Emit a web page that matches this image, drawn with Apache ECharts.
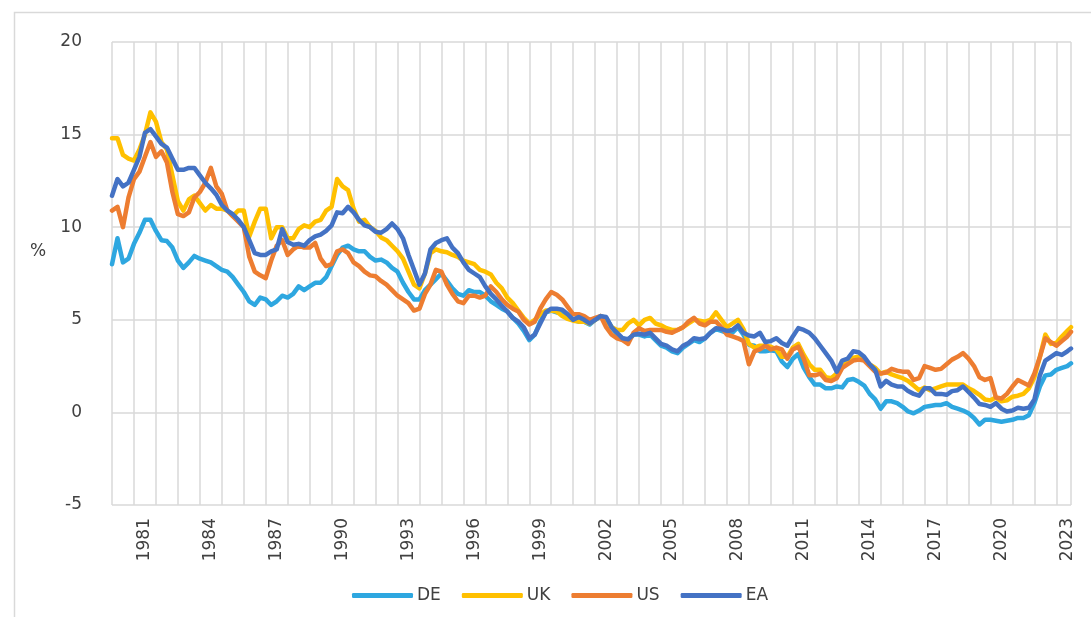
<!DOCTYPE html>
<html>
<head>
<meta charset="utf-8">
<script src="https://cdn.jsdelivr.net/npm/echarts@6/dist/echarts.min.js"></script>
<style>
html,body{margin:0;padding:0;background:#fff;}
#chart{width:1091px;height:617px;}
</style>
</head>
<body>
<div id="chart"></div>
<script>
// Quarterly observations from 1980 Q1 to 2023 Q3, plus the last monthly point (Sep 2023)
const startYear = 1980;
const quarterCount = 175;
const lastDate = 2023 + 8 / 12;
const dates = [];
for (let i = 0; i < quarterCount; i++) dates.push(startYear + i * 0.25);
dates.push(lastDate);

const yearLabels = [1981, 1984, 1987, 1990, 1993, 1996, 1999, 2002, 2005, 2008, 2011, 2014, 2017, 2020, 2023];
const seriesNames = ['DE', 'UK', 'US', 'EA'];

const DE = [
  8.0, 9.4, 8.1, 8.3,   9.1, 9.7, 10.4, 10.4,   9.8, 9.3, 9.25, 8.9,   8.2, 7.8, 8.1, 8.45,
  8.3, 8.2, 8.1, 7.9,   7.7, 7.6, 7.3, 6.9,   6.5, 6.0, 5.8, 6.2,   6.1, 5.8, 6.0, 6.3,
  6.2, 6.4, 6.8, 6.6,   6.8, 7.0, 7.0, 7.3,   7.9, 8.5, 8.9, 9.0,   8.8, 8.7, 8.7, 8.4,
  8.2, 8.25, 8.1, 7.8,   7.6, 7.0, 6.5, 6.1,   6.1, 6.6, 6.9, 7.2,   7.5, 7.1, 6.7, 6.4,
  6.3, 6.6, 6.5, 6.5,   6.3, 6.0, 5.8, 5.6,   5.45, 5.1, 4.8, 4.4,   3.9, 4.2, 4.9, 5.4,
  5.5, 5.4, 5.4, 5.25,   5.0, 4.9, 4.9, 4.75,   5.0, 5.2, 5.1, 4.6,   4.2, 4.0, 3.9, 4.2,
  4.2, 4.1, 4.2, 3.9,   3.6, 3.5, 3.3, 3.2,   3.5, 3.7, 3.9, 3.8,   4.0, 4.3, 4.5, 4.4,
  4.3, 4.3, 4.6, 4.2,   3.65, 3.6, 3.3, 3.3,   3.35, 3.3, 2.75, 2.45,   2.9, 3.15, 2.4, 1.9,
  1.5, 1.5, 1.3, 1.3,   1.4, 1.35, 1.75, 1.8,   1.65, 1.45, 1.0, 0.7,   0.2, 0.6, 0.6, 0.5,
  0.3, 0.05, -0.05, 0.1,   0.3, 0.35, 0.4, 0.4,   0.5, 0.3, 0.2, 0.1,   -0.05, -0.3, -0.65, -0.4,
  -0.4, -0.45, -0.5, -0.45,   -0.4, -0.3, -0.3, -0.15,   0.5, 1.4, 2.0, 2.05,   2.3, 2.4, 2.5, 2.65
];
const UK = [
  14.8, 14.8, 13.9, 13.7,   13.6, 14.2, 15.0, 16.2,   15.7, 14.6, 14.2, 12.8,   11.4, 10.9, 11.5, 11.7,
  11.3, 10.9, 11.2, 11.0,   11.0, 10.9, 10.6, 10.9,   10.9, 9.5, 10.3, 11.0,   11.0, 9.4, 10.0, 10.0,
  9.4, 9.4, 9.9, 10.1,   10.0, 10.3, 10.4, 10.9,   11.1, 12.6, 12.2, 12.0,   11.0, 10.3, 10.4, 10.0,
  9.8, 9.45, 9.3, 9.0,   8.7, 8.3, 7.6, 6.9,   6.7, 7.5, 8.6, 8.8,   8.7, 8.65, 8.5, 8.4,
  8.2, 8.1, 8.0, 7.7,   7.6, 7.45, 7.0, 6.7,   6.2, 5.9, 5.5, 5.1,   4.8, 5.0, 5.3, 5.5,
  5.5, 5.45, 5.2, 5.05,   4.95, 4.9, 4.9, 4.8,   5.0, 5.2, 5.0, 4.6,   4.45, 4.45, 4.8, 5.0,
  4.7, 5.0, 5.1, 4.8,   4.7, 4.55, 4.45, 4.45,   4.6, 4.8, 5.0, 4.95,   4.9, 5.0, 5.4, 5.0,
  4.6, 4.8, 5.0, 4.5,   3.7, 3.5, 3.6, 3.6,   3.55, 3.4, 3.0, 3.0,   3.5, 3.7, 3.1, 2.6,
  2.3, 2.3, 1.9, 1.85,   2.1, 2.5, 2.7, 2.95,   3.0, 2.85, 2.6, 2.4,   2.1, 2.2, 2.05, 1.95,
  1.85, 1.7, 1.45, 1.2,   1.35, 1.2, 1.3, 1.4,   1.5, 1.5, 1.5, 1.5,   1.3, 1.15, 0.95, 0.7,
  0.65, 0.8, 0.6, 0.65,   0.85, 0.9, 1.0, 1.3,   1.9, 3.0, 4.2, 3.7,   3.75, 4.1, 4.4, 4.6
];
const US = [
  10.9, 11.1, 10.0, 11.6,   12.6, 13.0, 13.8, 14.6,   13.8, 14.1, 13.5, 11.9,   10.7, 10.6, 10.8, 11.6,
  11.9, 12.4, 13.2, 12.2,   11.8, 10.9, 10.6, 10.3,   10.0, 8.4, 7.6, 7.4,   7.25, 8.2, 9.0, 9.3,
  8.5, 8.8, 9.0, 8.9,   8.9, 9.15, 8.3, 7.9,   8.0, 8.7, 8.8, 8.6,   8.1, 7.9, 7.6, 7.4,
  7.35, 7.1, 6.9, 6.6,   6.3, 6.1, 5.9, 5.5,   5.6, 6.4, 6.9, 7.7,   7.6, 6.9, 6.4, 6.0,
  5.9, 6.3, 6.3, 6.2,   6.3, 6.8, 6.5, 6.1,   5.8, 5.6, 5.45, 5.0,   4.75, 4.9, 5.6, 6.1,
  6.5, 6.35, 6.1, 5.7,   5.3, 5.3, 5.2, 5.0,   5.1, 5.2, 4.6, 4.2,   4.0, 3.9, 3.7, 4.3,
  4.55, 4.4, 4.45, 4.45,   4.45, 4.35, 4.3, 4.45,   4.6, 4.9, 5.1, 4.8,   4.7, 4.9, 4.9, 4.6,
  4.2, 4.1, 4.0, 3.85,   2.6, 3.3, 3.4, 3.6,   3.4, 3.5, 3.4, 2.9,   3.4, 3.55, 2.9, 2.0,
  2.0, 2.1, 1.75, 1.7,   1.85, 2.4, 2.6, 2.8,   2.85, 2.8, 2.5, 2.2,   2.1, 2.15, 2.35, 2.25,
  2.2, 2.2, 1.75, 1.85,   2.5, 2.4, 2.3, 2.35,   2.6, 2.85, 3.0, 3.2,   2.9, 2.5, 1.9, 1.75,
  1.85, 0.8, 0.75, 1.0,   1.4, 1.75, 1.6, 1.45,   2.1, 3.0, 4.0, 3.8,   3.6, 3.85, 4.1, 4.35
];
const EA = [
  11.7, 12.6, 12.2, 12.4,   13.1, 13.8, 15.1, 15.3,   14.9, 14.5, 14.3, 13.7,   13.1, 13.1, 13.2, 13.2,
  12.8, 12.4, 12.1, 11.75,   11.2, 10.9, 10.7, 10.4,   10.0, 9.3, 8.6, 8.5,   8.5, 8.7, 8.8, 9.9,
  9.2, 9.05, 9.1, 9.0,   9.3, 9.5, 9.6, 9.8,   10.1, 10.8, 10.75, 11.1,   10.8, 10.4, 10.1, 10.0,
  9.75, 9.7, 9.9, 10.2,   9.9, 9.4, 8.5, 7.7,   6.9, 7.5, 8.8, 9.15,   9.3, 9.4, 8.9, 8.6,
  8.1, 7.7, 7.5, 7.3,   6.8, 6.4, 6.1, 5.75,   5.45, 5.1, 4.9, 4.6,   4.0, 4.2, 4.8, 5.4,
  5.6, 5.6, 5.55, 5.3,   5.0, 5.15, 5.0, 4.8,   5.0, 5.2, 5.15, 4.6,   4.3, 4.0, 3.95, 4.2,
  4.25, 4.2, 4.3, 4.0,   3.7, 3.6, 3.4, 3.3,   3.6, 3.75, 4.0, 3.95,   4.0, 4.3, 4.55, 4.5,
  4.4, 4.45, 4.7, 4.3,   4.15, 4.1, 4.3, 3.8,   3.85, 4.0, 3.75, 3.6,   4.1, 4.55, 4.45, 4.3,
  4.0, 3.6, 3.2, 2.8,   2.2, 2.8, 2.9, 3.3,   3.25, 3.0, 2.6, 2.3,   1.4, 1.7, 1.5, 1.4,
  1.4, 1.15, 1.0, 0.9,   1.3, 1.3, 1.0, 1.0,   0.95, 1.15, 1.2, 1.4,   1.1, 0.8, 0.45, 0.4,
  0.3, 0.5, 0.2, 0.05,   0.1, 0.25, 0.2, 0.25,   0.7, 2.0, 2.8, 3.0,   3.2, 3.1, 3.3, 3.45
];

const seriesValues = [DE, UK, US, EA];
const colors = ['#2ea7e0', '#ffc000', '#ed7d31', '#4472c4'];
const FONT = 'DejaVu Sans';
const TEXT = '#404040';

const chart = echarts.init(document.getElementById('chart'), null, {renderer: 'canvas'});
chart.setOption({
  animation: false,
  backgroundColor: '#fff',
  color: colors,
  graphic: [
    {type: 'rect', left: 12, top: 10, shape: {width: 1200, height: 800}, silent: true,
     style: {fill: 'none', stroke: '#d9d9d9', lineWidth: 1.5}},
    {type: 'text', left: 30, top: 243, silent: true,
     style: {text: '%', font: '17px "DejaVu Sans"', fill: TEXT}}
  ],
  grid: {left: 112, right: 20, top: 42, bottom: 112, containLabel: false},
  legend: {
    data: seriesNames,
    left: 347, top: 582,
    icon: 'roundRect',
    itemWidth: 61, itemHeight: 5, itemGap: 21,
    textStyle: {fontFamily: FONT, fontSize: 17, color: TEXT, width: 28, padding: [0, 0, 0, -1]}
  },
  xAxis: {
    type: 'value',
    min: 1980, max: lastDate, interval: 1,
    axisLine: {show: false},
    axisTick: {show: false},
    splitLine: {show: true, lineStyle: {color: '#d9d9d9', width: 1.5}},
    axisLabel: {
      customValues: yearLabels.map(y => y + 0.5),
      formatter: v => String(Math.floor(v)),
      rotate: 90, margin: 13,
      fontFamily: FONT, fontSize: 17, color: TEXT
    }
  },
  yAxis: {
    type: 'value',
    min: -5, max: 20, interval: 5,
    axisLine: {show: false},
    axisTick: {show: false},
    splitLine: {show: true, lineStyle: {color: '#d9d9d9', width: 1.5}},
    axisLabel: {margin: 30, fontFamily: FONT, fontSize: 17, color: TEXT}
  },
  series: seriesNames.map((name, k) => ({
    name: name,
    type: 'line',
    showSymbol: false,
    symbol: 'none',
    lineStyle: {width: 4.5, color: colors[k], join: 'round', cap: 'round'},
    itemStyle: {color: colors[k]},
    data: dates.map((d, i) => [d, seriesValues[k][i]])
  }))
});
</script>
</body>
</html>
